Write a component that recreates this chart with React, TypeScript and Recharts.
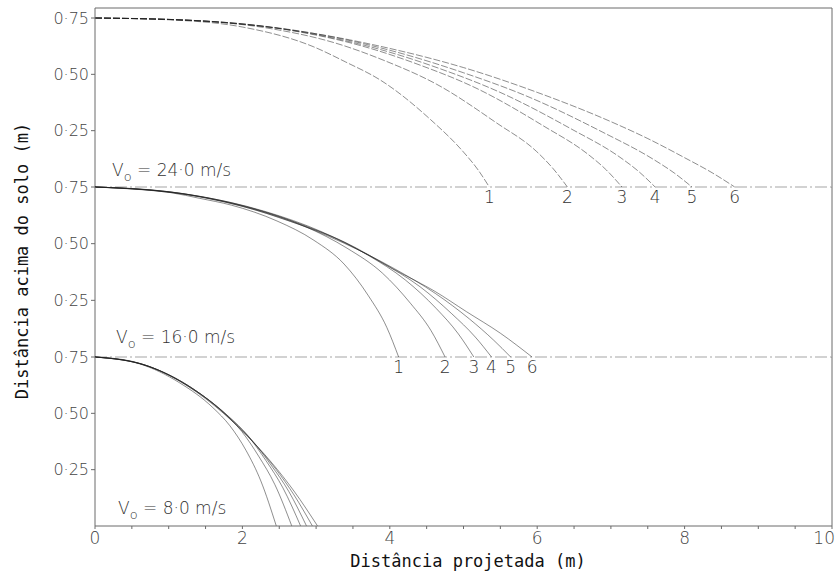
import React from 'react';
import { LineChart, Line, XAxis, YAxis, ReferenceLine, ReferenceDot } from 'recharts';

type P = [number, number];

// V0 = 24.0 m/s
const v24c1: P[] = [[0, 0.75], [1, 0.742], [2, 0.71], [2.96, 0.623], [3.4, 0.555], [3.87, 0.475], [4.55, 0.3], [5.0, 0.155], [5.2, 0.075], [5.35, 0]];
const v24c2: P[] = [[0, 0.75], [1.2, 0.741], [2.4, 0.702], [3.24, 0.641], [3.95, 0.558], [4.63, 0.457], [5.45, 0.284], [5.99, 0.158], [6.22, 0.08], [6.41, 0]];
const v24c3: P[] = [[0, 0.75], [1.34, 0.739], [2.67, 0.694], [3.61, 0.627], [4.41, 0.541], [5.17, 0.439], [6.08, 0.272], [6.69, 0.145], [6.94, 0.075], [7.15, 0]];
const v24c4: P[] = [[0, 0.75], [1.42, 0.738], [2.84, 0.686], [3.84, 0.613], [4.69, 0.524], [5.49, 0.421], [6.46, 0.258], [7.11, 0.135], [7.38, 0.068], [7.6, 0]];
const v24c5: P[] = [[0, 0.75], [1.51, 0.736], [3.03, 0.678], [4.09, 0.599], [5.0, 0.507], [5.86, 0.403], [6.89, 0.243], [7.57, 0.124], [7.86, 0.062], [8.1, 0]];
const v24c6: P[] = [[0, 0.75], [1, 0.744], [2, 0.722], [3, 0.68], [4, 0.615], [5, 0.53], [6, 0.42], [7, 0.29], [7.5, 0.215], [8, 0.13], [8.38, 0.062], [8.68, 0]];

// V0 = 16.0 m/s
const v16c1: P[] = [[0, 0.75], [1.03, 0.725], [1.42, 0.7], [1.85, 0.67], [2.47, 0.6], [2.97, 0.515], [3.38, 0.41], [3.71, 0.27], [3.96, 0.13], [4.12, 0]];
const v16c2: P[] = [[0, 0.75], [1.19, 0.721], [2.14, 0.656], [2.85, 0.576], [3.42, 0.48], [3.9, 0.37], [4.28, 0.237], [4.56, 0.116], [4.75, 0]];
const v16c3: P[] = [[0, 0.75], [1.29, 0.716], [2.31, 0.642], [3.08, 0.552], [3.7, 0.45], [4.21, 0.34], [4.63, 0.214], [4.93, 0.102], [5.14, 0]];
const v16c4: P[] = [[0, 0.75], [1.35, 0.712], [2.42, 0.628], [3.23, 0.528], [3.87, 0.42], [4.41, 0.31], [4.84, 0.191], [5.16, 0.088], [5.38, 0]];
const v16c5: P[] = [[0, 0.75], [1.41, 0.707], [2.54, 0.612], [3.38, 0.502], [4.06, 0.39], [4.62, 0.28], [5.08, 0.168], [5.41, 0.074], [5.64, 0]];
const v16c6: P[] = [[0, 0.75], [1, 0.729], [2, 0.665], [2.65, 0.598], [3.3, 0.52], [4.14, 0.372], [4.6, 0.292], [5.04, 0.2], [5.5, 0.105], [5.93, 0]];

// V0 = 8.0 m/s
const v8c1: P[] = [[0, 0.75], [0.6, 0.72], [1.15, 0.635], [1.6, 0.525], [1.83, 0.445], [2.05, 0.335], [2.25, 0.2], [2.46, 0]];
const v8c2: P[] = [[0, 0.75], [0.65, 0.717], [1.25, 0.623], [1.74, 0.505], [1.99, 0.42], [2.22, 0.31], [2.44, 0.184], [2.67, 0]];
const v8c3: P[] = [[0, 0.75], [0.68, 0.714], [1.3, 0.615], [1.81, 0.487], [2.08, 0.398], [2.32, 0.29], [2.55, 0.169], [2.79, 0]];
const v8c4: P[] = [[0, 0.75], [0.7, 0.712], [1.34, 0.607], [1.87, 0.468], [2.14, 0.377], [2.39, 0.27], [2.63, 0.153], [2.87, 0]];
const v8c5: P[] = [[0, 0.75], [0.72, 0.709], [1.38, 0.598], [1.92, 0.448], [2.19, 0.356], [2.46, 0.25], [2.7, 0.138], [2.95, 0]];
const v8c6: P[] = [[0, 0.75], [0.5, 0.731], [1, 0.67], [1.5, 0.565], [2, 0.422], [2.4, 0.28], [2.7, 0.155], [3.02, 0]];

const curveLabels = ['1', '2', '3', '4', '5', '6'];
const yTicks = [0.25, 0.5, 0.75];
const xTicks = [0, 0.5, 1, 1.5, 2, 2.5, 3, 3.5, 4, 4.5, 5, 5.5, 6, 6.5, 7, 7.5, 8, 8.5, 9, 9.5, 10];
const xLabelTicks = [0, 2, 4, 6, 8, 10];
const speedLabels = ['24·0', '16·0', '8·0'];
const xTitle = 'Distância projetada (m)';
const yTitle = 'Distância acima do solo (m)';

const toPts = (arr: P[]) => arr.map(([x, y]) => ({ x, y }));

const AXIS = '#6a6a6a';
const TICKFONT = 'DejaVu Sans';

const fmtY = (v: number) => v.toFixed(2).replace('.', '·');

const XTick = (props: any) => {
  const { x, y, payload } = props;
  const v = payload.value;
  if (!xLabelTicks.includes(v)) return <g />;
  const last = v === 10;
  return (
    <text x={last ? x + 3 : x} y={y} dy={13} textAnchor={last ? 'end' : 'middle'} fill="#444" fontSize={17} fontFamily={TICKFONT} fontWeight={300}>
      {String(v)}
    </text>
  );
};

type PanelProps = {
  curves: P[][];
  top: number;
  height: number;
  marginTop: number;
  marginBottom: number;
  yMax: number;
  dashed?: boolean;
  showX?: boolean;
  baseline?: boolean;
  labels?: boolean;
  frameTop?: boolean;
};

function Panel({ curves, top, height, marginTop, marginBottom, yMax, dashed, showX, baseline, labels, frameTop }: PanelProps) {
  return (
    <div style={{ position: 'absolute', left: 0, top, width: 835, height }}>
      <LineChart width={835} height={height} margin={{ top: marginTop, right: 3, bottom: marginBottom, left: 0 }}>
        <XAxis
          type="number"
          dataKey="x"
          domain={[0, 10]}
          ticks={xTicks}
          hide={!showX}
          height={47}
          interval={0}
          axisLine={{ stroke: AXIS }}
          tickLine={{ stroke: AXIS }}
          tickSize={3}
          tick={<XTick />}
          allowDuplicatedCategory={false}
        />
        <YAxis
          type="number"
          domain={[0, yMax]}
          ticks={yTicks}
          width={95}
          interval={0}
          axisLine={{ stroke: AXIS }}
          tickLine={{ stroke: AXIS }}
          tickSize={4}
          tickMargin={2}
          tickFormatter={fmtY}
          tick={{ fill: '#444', fontSize: 16, fontFamily: TICKFONT, fontWeight: 300 }}
        />
        {frameTop && <ReferenceLine y={yMax} stroke={AXIS} strokeWidth={1} />}
        <ReferenceLine x={10} stroke={AXIS} strokeWidth={1} />
        {baseline && <ReferenceLine y={0} stroke="#a5a5a5" strokeWidth={1} strokeDasharray="12 3 2 3" />}
        {curves.map((c, i) => (
          <Line
            key={i}
            data={toPts(c)}
            dataKey="y"
            type="monotone"
            dot={false}
            stroke="#1e1e1e"
            strokeOpacity={0.5}
            strokeWidth={1}
            strokeDasharray={dashed ? '7 2' : undefined}
            isAnimationActive={false}
          />
        ))}
        {labels &&
          curves.map((c, i) => (
            <ReferenceDot
              key={'l' + i}
              x={c[c.length - 1][0]}
              y={0}
              r={0}
              fill="none"
              stroke="none"
              label={{ value: curveLabels[i], position: 'bottom', offset: 4, fill: '#333', fontSize: 17, fontFamily: TICKFONT, fontWeight: 300 }}
            />
          ))}
      </LineChart>
    </div>
  );
}

const SpeedLabel = ({ x, y, s }: { x: number; y: number; s: string }) => (
  <text x={x} y={y} fontSize={17} fontFamily={TICKFONT} fontWeight={300} fill="#333">
    V
    <tspan dy={5} fontSize={13}>o</tspan>
    <tspan dy={-5}>{` = ${s} m/s`}</tspan>
  </text>
);

export default function App() {
  return (
    <div style={{ position: 'absolute', left: 0, top: 0, width: 835, height: 573, background: '#fff' }}>
      <Panel curves={[v24c1, v24c2, v24c3, v24c4, v24c5, v24c6]} top={0} height={217} marginTop={8} marginBottom={30} yMax={0.7944} dashed baseline labels frameTop />
      <Panel curves={[v16c1, v16c2, v16c3, v16c4, v16c5, v16c6]} top={177} height={210} marginTop={10} marginBottom={30} yMax={0.75} baseline labels />
      <Panel curves={[v8c1, v8c2, v8c3, v8c4, v8c5, v8c6]} top={347} height={226} marginTop={10} marginBottom={0} yMax={0.75} showX />
      <svg width={835} height={573} style={{ position: 'absolute', left: 0, top: 0, pointerEvents: 'none' }}>
        <SpeedLabel x={112} y={176} s={speedLabels[0]} />
        <SpeedLabel x={116} y={343} s={speedLabels[1]} />
        <SpeedLabel x={118} y={514} s={speedLabels[2]} />
        <text x={468} y={561} textAnchor="middle" dominantBaseline="central" fontSize={17} fontFamily="DejaVu Sans Mono" fill="#111">
          {xTitle}
        </text>
        <text
          x={22}
          y={261}
          transform="rotate(-90 22 261)"
          textAnchor="middle"
          dominantBaseline="central"
          fontSize={17}
          fontFamily="DejaVu Sans Mono"
          fill="#111"
        >
          {yTitle}
        </text>
      </svg>
    </div>
  );
}
